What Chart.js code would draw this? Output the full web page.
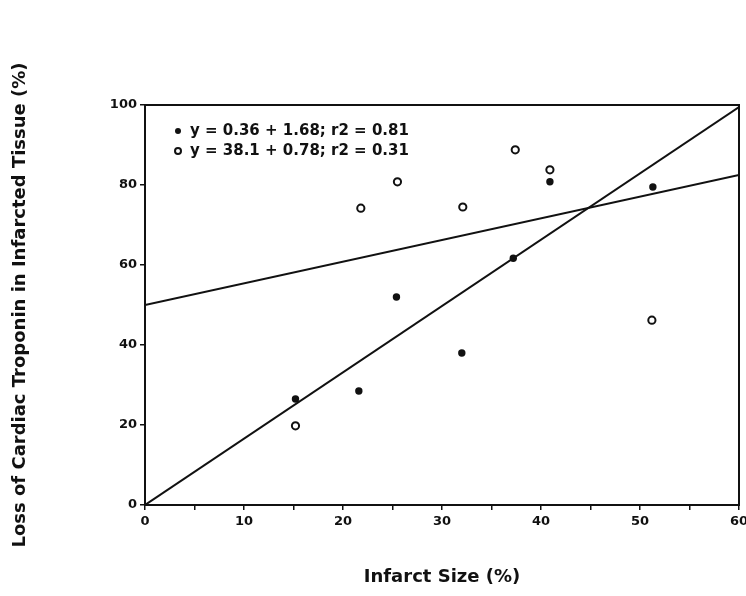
<!DOCTYPE html>
<html>
<head>
<meta charset="utf-8">
<script src="https://cdn.jsdelivr.net/npm/chart.js@4.4.1/dist/chart.umd.min.js"></script>
<style>
  html, body { margin: 0; padding: 0; background: #ffffff; }
  #wrap { width: 746px; height: 596px; position: relative; }
</style>
</head>
<body>
<div id="wrap"><canvas id="c" width="746" height="596"></canvas></div>
<script>
// ---- data ----
const xTitle = 'Infarct Size (%)';
const yTitle = 'Loss of Cardiac Troponin in Infarcted Tissue (%)';
const legendLabels = ['y = 0.36 + 1.68; r2 = 0.81', 'y = 38.1 + 0.78; r2 = 0.31'];

const filledX = [15.2, 21.6, 25.4, 32.0, 37.2, 40.9, 51.3];
const filledY = [26.5, 28.5, 52.0, 38.0, 61.7, 80.8, 79.5];

const openX = [15.2, 21.8, 25.5, 32.1, 37.4, 40.9, 51.2];
const openY = [19.8, 74.2, 80.8, 74.5, 88.8, 83.8, 46.2];

const fit1X = [0, 60];
const fit1Y = [0, 99.5];
const fit2X = [0, 60];
const fit2Y = [50, 82.5];

const xTicks = [0, 10, 20, 30, 40, 50, 60];
const xMinorTicks = [5, 15, 25, 35, 45, 55];
const yTicks = [0, 20, 40, 60, 80, 100];

const pts = (xs, ys) => xs.map((x, i) => ({ x: x, y: ys[i] }));

const FONT = '"DejaVu Sans", "Liberation Sans", Arial, sans-serif';

const framePlugin = {
  id: 'frame',
  afterDatasetsDraw(chart) {
    const { ctx, chartArea: a } = chart;
    ctx.save();
    ctx.strokeStyle = '#111';
    ctx.lineWidth = 2;
    ctx.strokeRect(a.left, a.top, a.right - a.left, a.bottom - a.top);
    ctx.restore();
  }
};

const legendPlugin = {
  id: 'innerLegend',
  afterDraw(chart) {
    const { ctx, chartArea: a } = chart;
    ctx.save();
    ctx.font = 'bold 15px ' + FONT;
    ctx.fillStyle = '#111';
    ctx.textBaseline = 'middle';
    const x0 = a.left + 33, tx = a.left + 45;
    const ys = [a.top + 26, a.top + 46];
    ctx.beginPath(); ctx.arc(x0, ys[0], 3, 0, Math.PI * 2); ctx.fill();
    ctx.beginPath(); ctx.arc(x0, ys[1], 3, 0, Math.PI * 2);
    ctx.lineWidth = 2; ctx.strokeStyle = '#111'; ctx.stroke();
    ctx.fillText(legendLabels[0], tx, ys[0]);
    ctx.fillText(legendLabels[1], tx, ys[1]);
    ctx.restore();
  }
};

new Chart(document.getElementById('c'), {
  type: 'scatter',
  data: {
    datasets: [
      { label: 'fit1', type: 'line', data: pts(fit1X, fit1Y), borderColor: '#111', borderWidth: 2, pointRadius: 0, fill: false, tension: 0 },
      { label: 'fit2', type: 'line', data: pts(fit2X, fit2Y), borderColor: '#111', borderWidth: 2, pointRadius: 0, fill: false, tension: 0 },
      { label: legendLabels[0], data: pts(filledX, filledY), backgroundColor: '#111', borderColor: '#111', pointRadius: 3.7, borderWidth: 0 },
      { label: legendLabels[1], data: pts(openX, openY), backgroundColor: '#fff', borderColor: '#111', pointRadius: 3.6, borderWidth: 2 }
    ]
  },
  options: {
    responsive: false,
    animation: false,
    layout: { padding: { left: 0, top: 105, right: 7, bottom: 0 } },
    plugins: { legend: { display: false }, tooltip: { enabled: false } },
    scales: {
      x: {
        type: 'linear', min: 0, max: 60,
        afterBuildTicks: s => { s.ticks = xTicks.concat(xMinorTicks).sort((a, b) => a - b).map(v => ({ value: v })); },
        ticks: {
          color: '#111', font: { family: FONT, size: 13, weight: 'bold' }, padding: 4, maxRotation: 0, autoSkip: false,
          callback: v => (xTicks.includes(v) ? String(v) : '')
        },
        grid: { drawOnChartArea: false, tickLength: 5, color: '#111', lineWidth: 1.5 },
        border: { color: '#111', width: 2 },
        title: { display: true, text: xTitle, color: '#111', font: { family: FONT, size: 18, weight: 'bold' }, padding: { top: 4, bottom: 8 } },
        afterFit: s => { s.height = 91; s.paddingRight = 0; s.paddingLeft = 0; }
      },
      y: {
        type: 'linear', min: 0, max: 100,
        afterBuildTicks: s => { s.ticks = yTicks.map(v => ({ value: v })); },
        ticks: { color: '#111', font: { family: FONT, size: 13, weight: 'bold' }, padding: 3 },
        grid: { drawOnChartArea: false, tickLength: 5, color: '#111', lineWidth: 1.5 },
        border: { color: '#111', width: 2 },
        title: { display: true, text: yTitle, color: '#111', font: { family: FONT, size: 18, weight: 'bold' }, padding: { top: 10, bottom: 4 } },
        afterFit: s => { s.width = 145; s.paddingTop = 0; s.paddingBottom = 0; }
      }
    }
  },
  plugins: [framePlugin, legendPlugin]
});
</script>
</body>
</html>
